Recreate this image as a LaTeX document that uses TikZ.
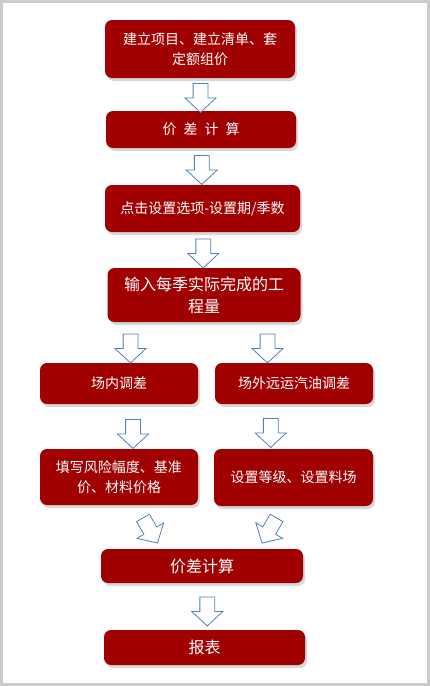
\documentclass[tikz,border=0pt]{standalone}
\usepackage{fontspec}
\setmainfont{Noto Sans CJK SC}
\usepackage{tikz}
\usetikzlibrary{positioning}
\usetikzlibrary{calc}
\usetikzlibrary{shapes.arrows}
\usetikzlibrary{shadows}
\usepackage{xcolor}
\definecolor{boxred}{RGB}{160,0,0}
\definecolor{arrowblue}{RGB}{79,129,189}
\definecolor{framegray}{RGB}{204,204,204}
\tikzset{
    stepbox/.style={rectangle, rounded corners=7pt, fill=boxred, text=white, align=center, inner sep=0pt,
        font=\fontsize{14}{20}\selectfont,
        drop shadow={shadow xshift=2pt, shadow yshift=-3pt, opacity=0.3}},
    bigtext/.style={font=\fontsize{16}{22}\selectfont},
    blockarrow/.style={single arrow, draw=arrowblue, fill=white, line width=0.8pt,
        minimum height=29pt, inner xsep=0pt, inner ysep=7pt,
        single arrow head extend=8pt, single arrow tip angle=94}
}
\newcommand{\blockarrow}[4]{ % Takes start anchor, end anchor, rotation, offset of the arrow from the midpoint
    \node[blockarrow, rotate=#3] at ($(#1)!0.5!(#2)+(#4)$) {};
}

\begin{document}
\begin{tikzpicture}[x=1pt, y=-1pt]
    % Frame
    \useasboundingbox (0,0) rectangle (430,686);
    \fill[framegray] (0,0) rectangle (430,686);
    \fill[white] (3,3) rectangle (427,683);

    % Steps
    \node[stepbox, minimum width=190pt, minimum height=58pt] (setup) at (200,49) {建立项目、建立清单、套\\定额组价};
    \node[stepbox, minimum width=190pt, minimum height=37pt] (diff) at (201,129.5) {价\enspace 差\enspace 计\enspace 算};
    \node[stepbox, minimum width=195pt, minimum height=47pt] (options) at (202.5,208.5) {点击设置选项-设置期/季数};
    \node[stepbox, bigtext, minimum width=193pt, minimum height=54pt] (quantity) at (204,295) {输入每季实际完成的工\\程量};

    % Two branches
    \node[stepbox, minimum width=158pt, minimum height=41pt] (inner) at (119,383.5) {场内调差};
    \node[stepbox, minimum width=158pt, minimum height=41pt] (outer) at (294,383.5) {场外远运汽油调差};
    \node[stepbox, minimum width=158pt, minimum height=56pt] (risk) at (119,477) {填写风险幅度、基准\\价、材料价格};
    \node[stepbox, minimum width=159pt, minimum height=57pt] (grade) at (293.5,477.5) {设置等级、设置料场};

    % Result
    \node[stepbox, bigtext, minimum width=202pt, minimum height=34pt] (total) at (202,566) {价差计算};
    \node[stepbox, bigtext, minimum width=201pt, minimum height=35pt] (report) at (204.5,647.5) {报表};

    % Arrows
    \blockarrow{setup.south}{diff.north}{-90}{0,0}
    \blockarrow{diff.south}{options.north}{-90}{0,0}
    \blockarrow{options.south}{quantity.north}{-90}{0,0}
    \blockarrow{inner.north |- quantity.south}{inner.north}{-90}{11.5,2.5}
    \blockarrow{outer.north |- quantity.south}{outer.north}{-90}{-26.5,2.5}
    \blockarrow{inner.south}{risk.north}{-90}{14,4}
    \blockarrow{outer.south}{grade.north}{-90}{-23,3}
    \blockarrow{risk.south}{total.north -| risk.south}{-60}{29.5,0.5}
    \blockarrow{grade.south}{total.north -| grade.south}{-120}{-22.5,0}
    \blockarrow{total.south}{report.north}{-90}{4,1.5}
\end{tikzpicture}
\end{document}
